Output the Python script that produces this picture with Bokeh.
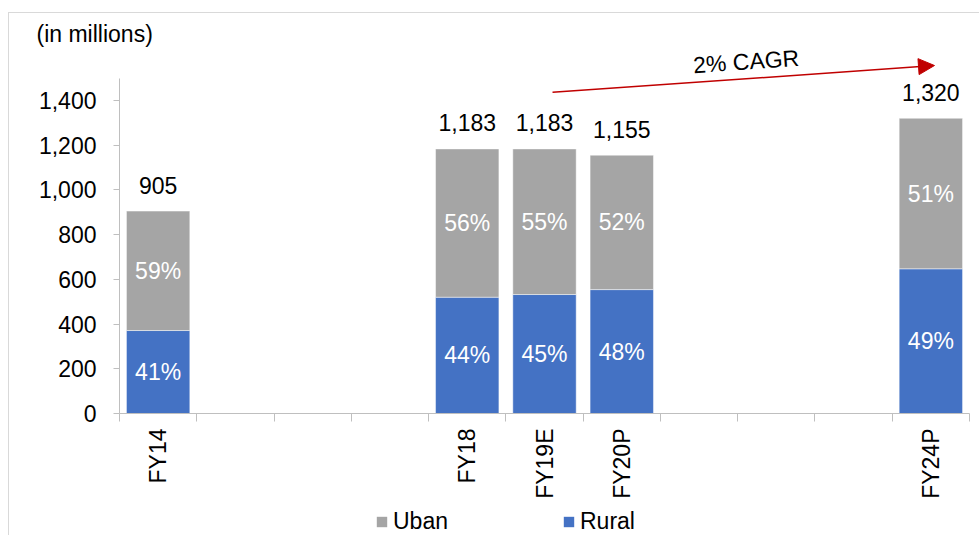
import math
from bokeh.plotting import figure
from bokeh.layouts import column
from bokeh.models import (Range1d, FixedTicker, ColumnDataSource, Label, Arrow, NormalHead,
                          Legend, LegendItem, NumeralTickFormatter, Title, InlineStyleSheet)
from bokeh.core.properties import value
from bokeh.embed import file_html
from bokeh.resources import INLINE

# ---- data ----
tick_labels = ["FY14", "", "", "", "FY18", "FY19E", "FY20P", "", "", "", "FY24P"]
periods = ["FY14", "FY18", "FY19E", "FY20P", "FY24P"]
totals = [905, 1183, 1183, 1155, 1320]
rural = [371, 520, 532, 554, 647]
urban = [534, 663, 651, 601, 673]
rural_pct = ["41%", "44%", "45%", "48%", "49%"]
urban_pct = ["59%", "56%", "55%", "52%", "51%"]
y_ticks = [0, 200, 400, 600, 800, 1000, 1200, 1400]

FONT = "Liberation Sans"
FS = "23px"
BLUE = "#4472C4"
GRAY = "#A5A5A5"
AXIS = "#BFBFBF"

xs = [tick_labels.index(pp) + 0.5 for pp in periods]
src = ColumnDataSource(dict(
    x=xs, rural=rural, urban=urban, total=totals,
    total_label=[f"{t:,}" for t in totals],
    rural_mid=[r / 2 for r in rural],
    urban_mid=[r + u / 2 for r, u in zip(rural, urban)],
    rural_pct=rural_pct, urban_pct=urban_pct,
))

x_range = Range1d(0, len(tick_labels))
p = figure(width=979, height=505, x_range=x_range, y_range=Range1d(0, 1641),
           output_backend="svg", toolbar_location=None,
           min_border_left=119, min_border_right=10, min_border_top=46, min_border_bottom=92)
p.xgrid.visible = False
p.ygrid.visible = False
p.outline_line_color = None
p.background_fill_color = "white"
p.border_fill_color = "white"

p.title = Title(text="(in millions)", align="left", offset=-83, standoff=0, vertical_align="bottom",
                text_font=FONT, text_font_size=FS, text_font_style="normal", text_color="black")

r_rural, r_urban = p.vbar_stack(["rural", "urban"], x="x", width=0.82, color=[BLUE, GRAY],
                                line_color="white", line_alpha=0.45, line_width=1, source=src)

# labels
p.text(x="x", y="total", text="total_label", source=src, text_align="center",
       text_baseline="alphabetic", y_offset=-26, text_font=value(FONT), text_font_size=FS,
       text_color="black")
p.text(x="x", y="rural_mid", text="rural_pct", source=src, text_align="center",
       text_baseline="middle", text_font=value(FONT), text_font_size=FS, text_color="white")
p.text(x="x", y="urban_mid", text="urban_pct", source=src, text_align="center",
       text_baseline="middle", text_font=value(FONT), text_font_size=FS, text_color="white")

# y axis
ya = p.yaxis[0]
ya.ticker = FixedTicker(ticks=y_ticks, minor_ticks=[])
ya.formatter = NumeralTickFormatter(format="0,0")
ya.bounds = (0, 1500)
ya.axis_line_color = AXIS
ya.major_tick_line_color = AXIS
ya.major_tick_in = 0
ya.major_tick_out = 6
ya.minor_tick_line_color = None
ya.major_label_standoff = 17
ya.major_label_text_font = FONT
ya.major_label_text_font_size = FS
ya.major_label_text_color = "black"

# x axis
xa = p.xaxis[0]
centers = [i + 0.5 for i in range(len(tick_labels))]
xa.ticker = FixedTicker(ticks=centers, minor_ticks=list(range(len(tick_labels) + 1)))
xa.major_label_overrides = {c: lab for c, lab in zip(centers, tick_labels)}
xa.major_label_orientation = math.pi / 2
xa.axis_line_color = AXIS
xa.major_tick_line_color = None
xa.major_tick_in = 0
xa.major_tick_out = 0
xa.minor_tick_line_color = AXIS
xa.minor_tick_in = 0
xa.minor_tick_out = 8
xa.major_label_standoff = 7
xa.major_label_text_font = FONT
xa.major_label_text_font_size = FS
xa.major_label_text_color = "black"

# CAGR arrow
p.add_layout(Arrow(end=NormalHead(size=16, fill_color="#C00000", line_color="#C00000"),
                   x_start=5.604, y_start=1436, x_end=10.547, y_end=1556,
                   line_color="#C00000", line_width=1.5))
p.add_layout(Label(x=8.11, y=1574, text="2% CAGR", angle=0.0705, text_align="center",
                   text_baseline="middle", text_font=FONT, text_font_size=FS, text_color="black"))

# ---- legend strip (same series as hidden renderers, only their swatches show) ----
lf = figure(width=979, height=30, x_range=x_range, y_range=Range1d(-5000, -4999),
            output_backend="svg", toolbar_location=None, x_axis_type=None, y_axis_type=None,
            min_border_left=0, min_border_right=0, min_border_top=0, min_border_bottom=0)
lf.xgrid.visible = False
lf.ygrid.visible = False
lf.outline_line_color = None
lf.border_fill_color = "white"
lf.background_fill_color = "white"
lu = lf.vbar(x="x", top="urban", width=0.82, fill_color=GRAY, line_color=None, source=src,
             visible=False)
lr = lf.vbar(x="x", top="rural", width=0.82, fill_color=BLUE, line_color=None, source=src,
             visible=False)
legend = Legend(items=[LegendItem(label="Uban", renderers=[lu]),
                       LegendItem(label="Rural", renderers=[lr])],
                orientation="horizontal", location=(256, 0),
                glyph_width=13, glyph_height=13, label_standoff=5, spacing=114,
                padding=0, margin=0, border_line_color=None, background_fill_alpha=0,
                inactive_fill_alpha=0,
                label_text_font=FONT, label_text_font_size=FS, label_text_color="black")
lf.add_layout(legend)

border_css = InlineStyleSheet(css="""
:host::after { content: ''; position: absolute; left: 8px; top: 12px; right: 0; bottom: 0;
  border-left: 1px solid #D9D9D9; border-top: 1px solid #D9D9D9; pointer-events: none; z-index: 10; }
""")
layout = column(p, lf, spacing=0, stylesheets=[border_css])

open("out.html", "w").write(file_html(layout, INLINE))
